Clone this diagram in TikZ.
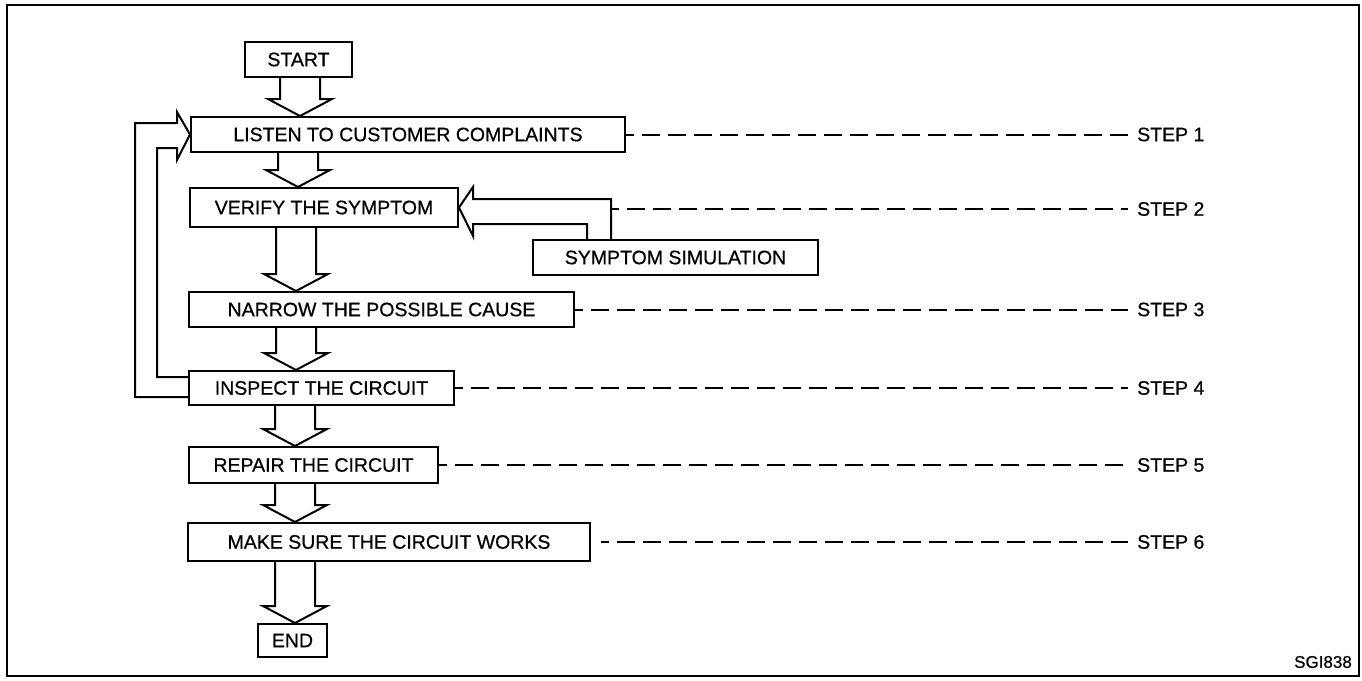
\documentclass[tikz,border=0pt]{standalone}
\usepackage{fontspec}
\setmainfont{Liberation Sans}[FakeBold=0.6]
\usetikzlibrary{calc}
\newcommand{\blkdown}[3]{%
  \draw[blk] ({#3-20},0 |- #1.south) -- ($({#3-20},0 |- #2.north)+(0,-17)$)
    -- ($({#3-32},0 |- #2.north)+(0,-17)$) -- (#3,0 |- #2.north)
    -- ($({#3+32},0 |- #2.north)+(0,-17)$) -- ($({#3+20},0 |- #2.north)+(0,-17)$)
    -- ({#3+20},0 |- #1.south);}
\begin{document}
\begin{tikzpicture}[x=1pt,y=-1pt,
  box/.style={draw, line width=2pt, rectangle, inner sep=0pt, font=\fontsize{19.5}{22}\selectfont},
  blk/.style={draw, line width=2pt, line join=miter},
  dashline/.style={line width=2pt, dash pattern=on 18pt off 8pt, dash phase=10pt},
  steplabel/.style={anchor=west, inner sep=0pt, font=\fontsize{19.5}{22}\selectfont}]
\useasboundingbox (0,0) rectangle (1362,680);
\draw[line width=2pt] (7,5) rectangle (1359,676);

\node[box, minimum width=107pt, minimum height=35pt] (start) at (298.5,59.5) {START};
\node[box, minimum width=434pt, minimum height=35pt] (listen) at (408,134.5) {LISTEN TO CUSTOMER COMPLAINTS};
\node[box, minimum width=268pt, minimum height=39pt] (verify) at (324,207.5) {VERIFY THE SYMPTOM};
\node[box, minimum width=285pt, minimum height=35pt] (sim) at (675.5,257.5) {SYMPTOM SIMULATION};
\node[box, minimum width=385pt, minimum height=35pt] (narrow) at (381.5,309.5) {NARROW THE POSSIBLE CAUSE};
\node[box, minimum width=265pt, minimum height=34pt] (inspect) at (321.5,388) {INSPECT THE CIRCUIT};
\node[box, minimum width=249pt, minimum height=36pt] (repair) at (313.5,465) {REPAIR THE CIRCUIT};
\node[box, minimum width=402pt, minimum height=38pt] (make) at (389,542) {MAKE SURE THE CIRCUIT WORKS};
\node[box, minimum width=69pt, minimum height=33pt] (end) at (292.5,640.5) {END};

\blkdown{start}{listen}{300}
\blkdown{listen}{verify}{298}
\blkdown{verify}{narrow}{296}
\blkdown{narrow}{inspect}{296}
\blkdown{inspect}{repair}{295}
\blkdown{repair}{make}{295}
\blkdown{make}{end}{295}

% symptom simulation feedback
\draw[blk] (587,0 |- sim.north) -- (587,224) -- (473,224) -- (473,236) -- (verify.east)
  -- (473,187) -- (473,199) -- (611,199) -- (611,0 |- sim.north);
\coordinate (fb) at (611,209);

% loop from inspect back to listen
\draw[blk] (inspect.west |- 0,397) -- (135,397) -- (135,123) -- (177,123) -- (177,112)
  -- (listen.west) -- (177,160) -- (177,148) -- (157,148) -- (157,377) -- (inspect.west |- 0,377);

\node[steplabel] (s1) at (1137,134.5) {STEP 1};
\node[steplabel] (s2) at (1137,209) {STEP 2};
\node[steplabel] (s3) at (1137,309.5) {STEP 3};
\node[steplabel] (s4) at (1137,388) {STEP 4};
\node[steplabel] (s5) at (1137,465) {STEP 5};
\node[steplabel] (s6) at (1137,542) {STEP 6};

\draw[dashline] (listen.east) -- ([xshift=-9pt]s1.west);
\draw[dashline] (fb) -- ([xshift=-9pt]s2.west);
\draw[dashline] (narrow.east) -- ([xshift=-9pt]s3.west);
\draw[dashline] (inspect.east) -- ([xshift=-9pt]s4.west);
\draw[dashline] (repair.east) -- ([xshift=-9pt]s5.west);
\draw[dashline] ([xshift=10pt]make.east) -- ([xshift=-9pt]s6.west);

\node[anchor=east, inner sep=0pt, font=\fontsize{17}{20}\selectfont] (code) at (1352,662) {SGI838};
\end{tikzpicture}
\end{document}
